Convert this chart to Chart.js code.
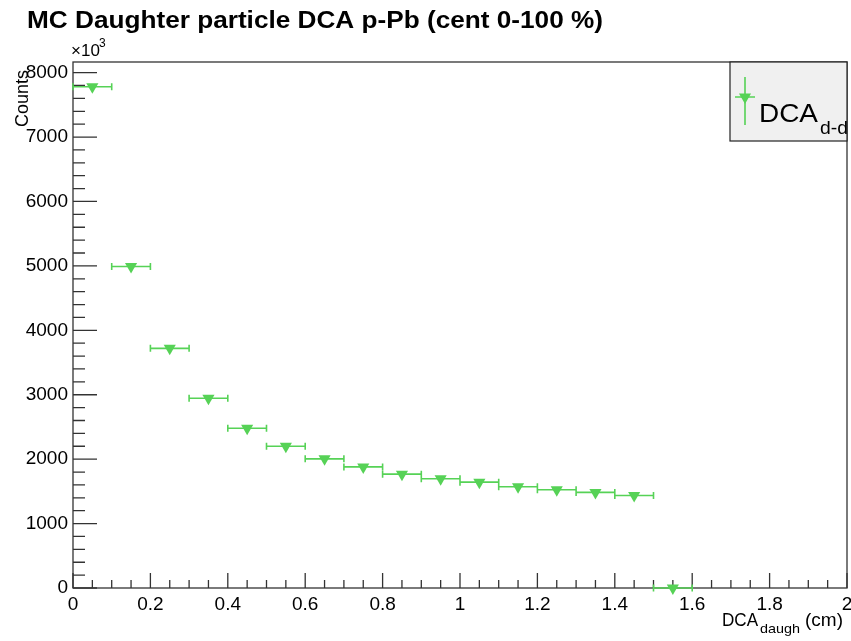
<!DOCTYPE html>
<html>
<head>
<meta charset="utf-8">
<script src="https://cdn.jsdelivr.net/npm/chart.js@4"></script>
<style>
  html, body { margin: 0; padding: 0; background: #fff; }
  #wrap { width: 851px; height: 641px; }
</style>
</head>
<body>
<div id="wrap"><canvas id="chart" width="851" height="641"></canvas></div>
<script>
// bin centres (cm) and counts
const xBinCenters = [0.05, 0.15, 0.25, 0.35, 0.45, 0.55, 0.65, 0.75, 0.85, 0.95, 1.05, 1.15, 1.25, 1.35, 1.45, 1.55];
const counts = [7780, 4990, 3720, 2945, 2480, 2200, 2005, 1880, 1767, 1695, 1643, 1572, 1525, 1484, 1437, 0];
const binHalfWidth = 0.05;

const xTickValues = [0, 0.2, 0.4, 0.6, 0.8, 1, 1.2, 1.4, 1.6, 1.8, 2];
const xTickLabels = ['0', '0.2', '0.4', '0.6', '0.8', '1', '1.2', '1.4', '1.6', '1.8', '2'];
const yTickValues = [0, 1000, 2000, 3000, 4000, 5000, 6000, 7000, 8000];
const yTickLabels = ['0', '1000', '2000', '3000', '4000', '5000', '6000', '7000', '8000'];

const FONT = '"Liberation Sans", Arial, Helvetica, sans-serif';
const GREEN = 'rgb(86, 210, 86)';

function drawTriangleDown(ctx, x, y, r) {
    ctx.beginPath();
    ctx.moveTo(x - r * 0.866, y - r * 0.5);
    ctx.lineTo(x + r * 0.866, y - r * 0.5);
    ctx.lineTo(x, y + r);
    ctx.closePath();
    ctx.fill();
}

// draw text (left aligned) stretched to a given width
function fillTextWidth(ctx, text, x, y, width) {
    const w = ctx.measureText(text).width;
    ctx.save();
    ctx.translate(x, y);
    ctx.scale(width / w, 1);
    ctx.fillText(text, 0, 0);
    ctx.restore();
}

const rootStyle = {
    id: 'rootStyle',
    beforeDatasetsDraw(chart) {
        const {ctx, chartArea: a, scales: {x, y}} = chart;
        ctx.save();

        // frame
        ctx.strokeStyle = '#333';
        ctx.lineWidth = 1.3;
        ctx.strokeRect(a.left, a.top, a.right - a.left, a.bottom - a.top);

        // y ticks (major + 4 minor between)
        ctx.beginPath();
        yTickValues.forEach((v, i) => {
            const py = y.getPixelForValue(v);
            ctx.moveTo(a.left, py);
            ctx.lineTo(a.left + 24, py);
            if (i < yTickValues.length - 1) {
                const step = (yTickValues[i + 1] - v) / 5;
                for (let k = 1; k < 5; k++) {
                    const pm = y.getPixelForValue(v + k * step);
                    ctx.moveTo(a.left, pm);
                    ctx.lineTo(a.left + 12, pm);
                }
            }
        });
        // x ticks (major + 3 minor between)
        xTickValues.forEach((v, i) => {
            const px = x.getPixelForValue(v);
            ctx.moveTo(px, a.bottom);
            ctx.lineTo(px, a.bottom - 15);
            if (i < xTickValues.length - 1) {
                const step = (xTickValues[i + 1] - v) / 4;
                for (let k = 1; k < 4; k++) {
                    const pm = x.getPixelForValue(v + k * step);
                    ctx.moveTo(pm, a.bottom);
                    ctx.lineTo(pm, a.bottom - 8);
                }
            }
        });
        ctx.stroke();

        // horizontal error bars with end caps
        ctx.strokeStyle = GREEN;
        ctx.lineWidth = 1.6;
        ctx.beginPath();
        xBinCenters.forEach((c, i) => {
            const py = y.getPixelForValue(counts[i]);
            const x0 = x.getPixelForValue(c - binHalfWidth);
            const x1 = x.getPixelForValue(c + binHalfWidth);
            ctx.moveTo(x0, py);
            ctx.lineTo(x1, py);
            ctx.moveTo(x0, py - 3.5);
            ctx.lineTo(x0, py + 3.5);
            ctx.moveTo(x1, py - 3.5);
            ctx.lineTo(x1, py + 3.5);
        });
        ctx.stroke();
        ctx.restore();
    },
    afterDraw(chart) {
        const {ctx, chartArea: a} = chart;
        ctx.save();
        ctx.fillStyle = '#000';
        ctx.textAlign = 'left';
        ctx.textBaseline = 'alphabetic';

        // title
        ctx.font = 'bold 24px ' + FONT;
        fillTextWidth(ctx, 'MC Daughter particle DCA p-Pb (cent 0-100 %)', 27, 28, 576);

        // x10^3
        ctx.font = '17px ' + FONT;
        ctx.fillText('\u00d710', 71, 56);
        ctx.font = '12px ' + FONT;
        ctx.fillText('3', 99, 47);

        // y title, right end near the top of the axis
        ctx.save();
        ctx.translate(28, a.top + 8);
        ctx.rotate(-Math.PI / 2);
        ctx.font = '18px ' + FONT;
        fillTextWidth(ctx, 'Counts', -57, 0, 57);
        ctx.restore();

        // x title
        const xt = 722, yt = 626;
        ctx.font = '18px ' + FONT;
        fillTextWidth(ctx, 'DCA', xt, yt, 36);
        ctx.font = '13px ' + FONT;
        fillTextWidth(ctx, 'daugh', xt + 38, yt + 7, 40);
        ctx.font = '18px ' + FONT;
        fillTextWidth(ctx, '(cm)', xt + 83, yt, 38);

        // legend box
        const lx = 730, ly = a.top, lw = a.right - 730, lh = 79;
        ctx.fillStyle = '#f0f0f0';
        ctx.fillRect(lx, ly, lw, lh);
        ctx.strokeStyle = '#222';
        ctx.lineWidth = 1.2;
        ctx.strokeRect(lx, ly, lw, lh);
        ctx.strokeStyle = GREEN;
        ctx.lineWidth = 1.6;
        ctx.beginPath();
        ctx.moveTo(745, ly + 15);
        ctx.lineTo(745, ly + 63);
        ctx.moveTo(735, ly + 35);
        ctx.lineTo(755, ly + 35);
        ctx.stroke();
        ctx.fillStyle = GREEN;
        drawTriangleDown(ctx, 745, ly + 35, 7);
        ctx.fillStyle = '#000';
        ctx.font = '25px ' + FONT;
        fillTextWidth(ctx, 'DCA', 759, ly + 60, 59);
        ctx.font = '19px ' + FONT;
        fillTextWidth(ctx, 'd-d', 820, ly + 72, 28);

        ctx.restore();
    }
};

new Chart(document.getElementById('chart'), {
    type: 'scatter',
    data: {
        datasets: [{
            label: 'DCA d-d',
            data: xBinCenters.map((c, i) => ({x: c, y: counts[i]})),
            pointStyle: 'triangle',
            rotation: 180,
            pointRadius: 7,
            pointHoverRadius: 7,
            backgroundColor: GREEN,
            borderColor: GREEN,
            borderWidth: 0,
            clip: false
        }]
    },
    plugins: [rootStyle],
    options: {
        responsive: false,
        animation: false,
        events: [],
        layout: {autoPadding: false, padding: {left: 0, top: 62, right: 4, bottom: 0}},
        plugins: {
            legend: {display: false},
            title: {display: false},
            tooltip: {enabled: false}
        },
        scales: {
            x: {
                type: 'linear',
                min: 0,
                max: 2,
                afterBuildTicks: (scale) => { scale.ticks = xTickValues.map(v => ({value: v})); },
                afterFit: (scale) => {
                    scale.height = 53;
                    scale.paddingLeft = 0;
                    scale.paddingRight = 0;
                },
                grid: {display: false, drawTicks: false},
                border: {display: false},
                ticks: {
                    autoSkip: false,
                    maxRotation: 0,
                    padding: 5,
                    color: '#000',
                    font: {family: FONT, size: 19},
                    callback: (v) => xTickLabels[xTickValues.indexOf(v)]
                }
            },
            y: {
                type: 'linear',
                min: 0,
                max: 8165,
                afterBuildTicks: (scale) => { scale.ticks = yTickValues.map(v => ({value: v})); },
                afterFit: (scale) => {
                    scale.width = 73;
                    scale.paddingTop = 0;
                    scale.paddingBottom = 0;
                },
                grid: {display: false, drawTicks: false},
                border: {display: false},
                ticks: {
                    autoSkip: false,
                    padding: 5,
                    color: '#000',
                    font: {family: FONT, size: 19},
                    callback: (v) => yTickLabels[yTickValues.indexOf(v)]
                }
            }
        }
    }
});
</script>
</body>
</html>
